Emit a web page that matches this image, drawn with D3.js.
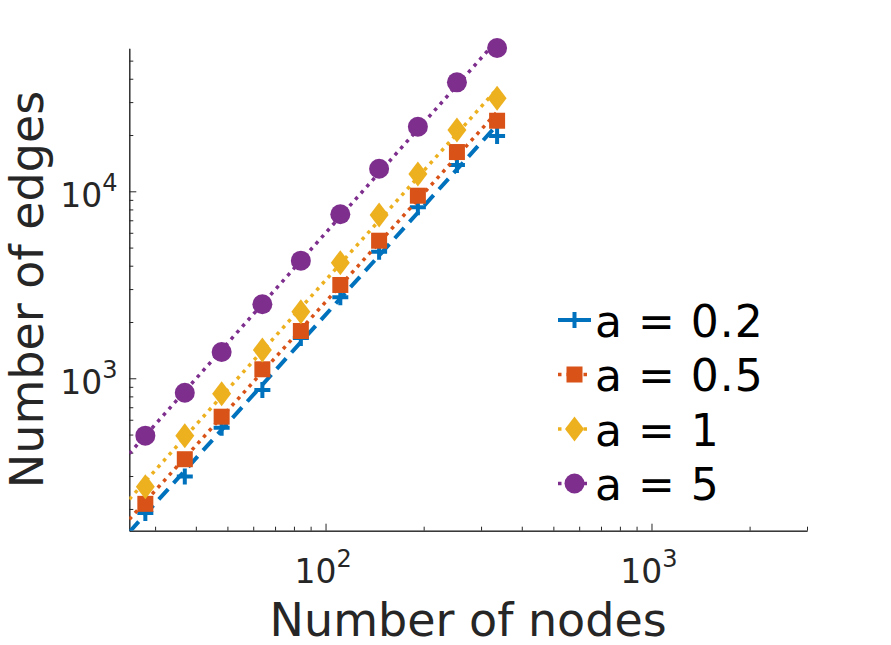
<!DOCTYPE html>
<html>
<head>
<meta charset="utf-8">
<script src="https://cdn.jsdelivr.net/npm/d3@7"></script>
<style>
  body { margin: 0; background: #fff; }
  svg { display: block; font-family: "DejaVu Sans", sans-serif; }
</style>
</head>
<body>
<div id="container"></div>
<script>
// data
const nodes = [28, 37, 48, 64, 84, 111, 146, 192, 253, 336];
const edgesA02 = [190, 298, 544, 866, 1640, 2711, 4753, 8213, 13820, 19760];
const edgesA05 = [213, 369, 623, 1117, 1790, 3155, 5443, 9474, 16220, 23850];
const edgesA1 = [263, 493, 827, 1417, 2271, 4152, 7468, 12375, 21270, 31430];
const edgesA5 = [493, 837, 1382, 2487, 4255, 7534, 13210, 22160, 38280, 58390];
const seriesNames = ["a = 0.2", "a = 0.5", "a = 1", "a = 5"];
const xTickExp = [2, 3];
const yTickExp = [3, 4];

const w = 891, h = 645;
const m = { top: 48.3, right: 84, bottom: 114.3, left: 129.3 };
const colors = ["#0072BD", "#D95319", "#EDB120", "#7E2F8E"];
const axisColor = "#262626";

const series = [edgesA02, edgesA05, edgesA1, edgesA5].map((v, i) => ({
  name: seriesNames[i], values: v, color: colors[i], idx: i
}));

const x = d3.scaleLog().domain([25, 3000]).range([m.left, w - m.right]);
const y = d3.scaleLog().domain([153, 58200]).range([h - m.bottom, m.top]);

const svg = d3.select("#container").append("svg")
  .attr("width", w)
  .attr("height", h);

svg.append("defs").append("clipPath").attr("id", "plot-clip")
  .append("rect")
  .attr("x", m.left).attr("y", m.top)
  .attr("width", w - m.right - m.left)
  .attr("height", h - m.bottom - m.top);

// minor tick values, 2..9 per decade inside the domain
function minorTicks(scale) {
  const [a, b] = scale.domain();
  const out = [];
  for (let e = Math.floor(Math.log10(a)); e <= Math.ceil(Math.log10(b)); e++) {
    for (let k = 2; k <= 9; k++) {
      const v = k * Math.pow(10, e);
      if (v >= a && v <= b) out.push(v);
    }
  }
  return out;
}

// axes (ticks pointing in, no box)
const styleAxis = g => {
  g.selectAll("path, line").attr("stroke", axisColor).attr("stroke-width", 1);
  g.selectAll("text").remove();
};

svg.append("g")
  .attr("transform", `translate(0,${h - m.bottom})`)
  .call(d3.axisBottom(x).tickValues(minorTicks(x)).tickSizeInner(-4).tickSizeOuter(0).tickFormat(""))
  .call(styleAxis);
svg.append("g")
  .attr("transform", `translate(0,${h - m.bottom})`)
  .call(d3.axisBottom(x).tickValues(xTickExp.map(e => Math.pow(10, e))).tickSizeInner(-7).tickSizeOuter(0).tickFormat(""))
  .call(styleAxis);
svg.append("g")
  .attr("transform", `translate(${m.left},0)`)
  .call(d3.axisLeft(y).tickValues(minorTicks(y)).tickSizeInner(-4).tickSizeOuter(0).tickFormat(""))
  .call(styleAxis);
svg.append("g")
  .attr("transform", `translate(${m.left},0)`)
  .call(d3.axisLeft(y).tickValues(yTickExp.map(e => Math.pow(10, e))).tickSizeInner(-7).tickSizeOuter(0).tickFormat(""))
  .call(styleAxis);

// tick labels 10^n
function powLabel(sel, exp) {
  sel.append("tspan").text("10");
  sel.append("tspan").attr("dy", -16).attr("font-size", 24).text(exp);
}
xTickExp.forEach(e => {
  svg.append("text")
    .attr("x", x(Math.pow(10, e)) - 2.5)
    .attr("y", h - m.bottom + 52)
    .attr("text-anchor", "middle")
    .attr("font-size", 33)
    .attr("fill", axisColor)
    .call(powLabel, e);
});
yTickExp.forEach(e => {
  svg.append("text")
    .attr("x", 117.5)
    .attr("y", y(Math.pow(10, e)) + 15.5)
    .attr("text-anchor", "end")
    .attr("font-size", 33)
    .attr("fill", axisColor)
    .call(powLabel, e);
});

// axis labels
svg.append("text")
  .attr("x", (m.left + w - m.right) / 2)
  .attr("y", 635.5)
  .attr("text-anchor", "middle")
  .attr("font-size", 46)
  .attr("fill", axisColor)
  .text("Number of nodes");
svg.append("text")
  .attr("transform", `translate(43,${(m.top + h - m.bottom) / 2}) rotate(-90)`)
  .attr("text-anchor", "middle")
  .attr("font-size", 46)
  .attr("fill", axisColor)
  .text("Number of edges");

// power-law fit in log space
function fit(xs, ys) {
  const lx = xs.map(Math.log10), ly = ys.map(Math.log10);
  const mx = d3.mean(lx), my = d3.mean(ly);
  const b = d3.sum(lx, (v, i) => (v - mx) * (ly[i] - my)) / d3.sum(lx, v => (v - mx) * (v - mx));
  const a = my - b * mx;
  return v => Math.pow(10, a + b * Math.log10(v));
}

const lineStyles = [
  { dash: "14,8", width: 4 },
  { dash: "3.5,5", width: 3.5 },
  { dash: "3.5,5", width: 3.5 },
  { dash: "3.5,5", width: 3.5 }
];

// marker shapes
function drawMarker(g, i, color) {
  if (i === 0) {
    g.append("path").attr("d", "M-8,0H8M0,-8V8")
      .attr("stroke", color).attr("stroke-width", 4).attr("fill", "none");
  } else if (i === 1) {
    g.append("rect").attr("x", -8).attr("y", -8).attr("width", 16).attr("height", 16)
      .attr("fill", color);
  } else if (i === 2) {
    g.append("path").attr("d", "M0,-12.5L9.5,0L0,12.5L-9.5,0Z").attr("fill", color);
  } else {
    g.append("circle").attr("r", 10).attr("fill", color);
  }
}

const line = d3.line().x(d => x(d[0])).y(d => y(d[1]));

series.forEach(s => {
  const f = fit(nodes, s.values);
  const x0 = x.domain()[0], x1 = nodes[nodes.length - 1];
  svg.append("path")
    .datum([[x0, f(x0)], [x1, f(x1)]])
    .attr("clip-path", "url(#plot-clip)")
    .attr("d", line)
    .attr("fill", "none")
    .attr("stroke", s.color)
    .attr("stroke-width", lineStyles[s.idx].width)
    .attr("stroke-dasharray", lineStyles[s.idx].dash);

  svg.append("g")
    .selectAll("g")
    .data(nodes.map((n, j) => [n, s.values[j]]))
    .enter()
    .append("g")
    .attr("transform", d => `translate(${x(d[0])},${y(d[1])})`)
    .each(function () { drawMarker(d3.select(this), s.idx, s.color); });
});

// legend
const legend = svg.append("g").attr("transform", "translate(558,336.5)");
series.forEach((s, i) => {
  const row = legend.append("g").attr("transform", `translate(0,${i * 54.5})`);
  row.append("line")
    .attr("x1", 0).attr("x2", 33)
    .attr("y1", -16.5).attr("y2", -16.5)
    .attr("stroke", s.color)
    .attr("stroke-width", lineStyles[i].width)
    .attr("stroke-dasharray", lineStyles[i].dash);
  const mk = row.append("g").attr("transform", "translate(16.5,-16.5)");
  drawMarker(mk, i, s.color);
  row.append("text")
    .attr("x", 37)
    .attr("y", 0)
    .attr("font-size", 44)
    .attr("letter-spacing", 1)
    .attr("fill", "#000")
    .text(s.name);
});
</script>
</body>
</html>
